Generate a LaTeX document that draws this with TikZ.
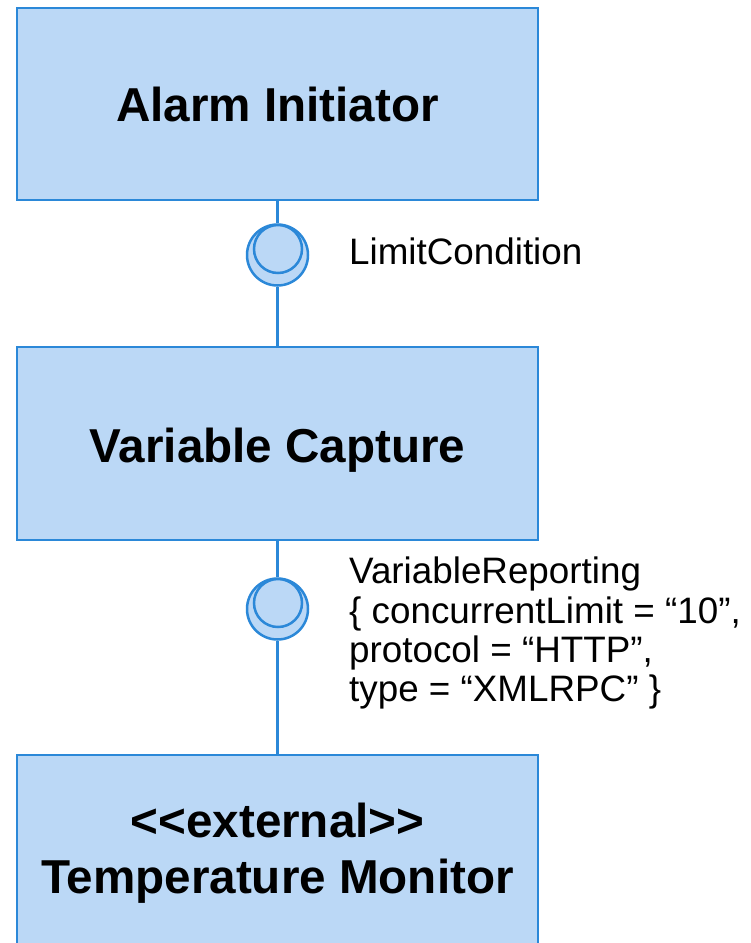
\documentclass[tikz,border=0pt]{standalone}
\usepackage{fontspec}
\setmainfont{Liberation Sans}
\definecolor{umlline}{HTML}{2B88D8}
\definecolor{umlfill}{HTML}{BBD8F6}
\begin{document}
\begin{tikzpicture}[x=1pt,y=-1pt,
  component/.style={draw=umlline, fill=umlfill, line width=2.8pt, minimum width=521pt,
    inner sep=0pt},
  title/.style={anchor=base, inner sep=0pt, font=\fontsize{47.6}{56}\selectfont\bfseries},
  iface/.style={circle, draw=umlline, fill=umlfill, line width=2.5pt, minimum size=61pt, inner sep=0pt},
  ifaceinner/.style={circle, draw=umlline, line width=2.5pt, minimum size=48pt, inner sep=0pt},
  wire/.style={draw=umlline, line width=2.4pt},
  label/.style={anchor=north west, inner sep=0pt, align=left, font=\fontsize{36.8}{39.3}\selectfont}]
  \useasboundingbox (0,0) rectangle (751,943);
  % components
  \node[component, minimum height=192pt] (alarm) at (277.5,104) {};
  \node[component, minimum height=193pt] (capture) at (277.5,443.5) {};
  \node[component, minimum height=200pt] (monitor) at (277.5,855) {};
  \node[title] (alarmtitle) at (277.5,121.5) {Alarm Initiator};
  \node[title] (capturetitle) at (277.5,462) {Variable Capture};
  \node[title] (monitorstereo) at (277.5,837) {{<}{<}external{>}{>}};
  \node[title] (monitortitle) at (277.5,893) {Temperature Monitor};
  % provided interfaces (ball with socket)
  \node[iface] (limit) at (277.5,255) {};
  \node[ifaceinner] (limitin) at (278,249) {};
  \node[iface] (report) at (277.5,609) {};
  \node[ifaceinner] (reportin) at (278,603) {};
  % connectors
  \draw[wire] (alarm.south) -- (limit.north);
  \draw[wire] (limit.south) -- (capture.north);
  \draw[wire] (capture.south) -- (report.north);
  \draw[wire] (report.south) -- (monitor.north);
  % interface labels
  \node[label] (limitlbl) at (349,238) {LimitCondition};
  \node[label] (reportlbl) at (349,557) {VariableReporting\\{\{} concurrentLimit = “10”,\\protocol = “HTTP”,\\type = “XMLRPC” \}};
\end{tikzpicture}
\end{document}
